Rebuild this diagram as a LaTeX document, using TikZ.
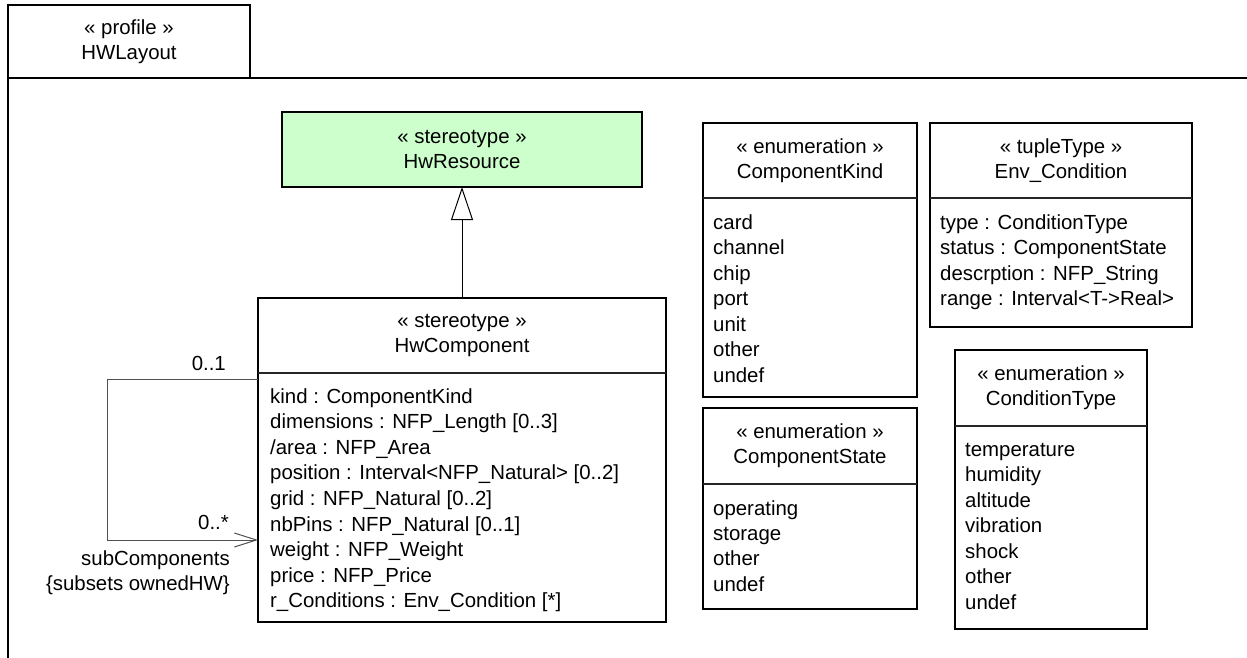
\documentclass[tikz,border=0pt]{standalone}
\usepackage{fontspec}
\setmainfont{Liberation Sans}
\usepackage{tikz}
\usetikzlibrary{arrows.meta,positioning,calc}
\definecolor{stereogreen}{RGB}{204,255,204}
\definecolor{linegray}{RGB}{80,80,80}
\newcommand{\umlfont}{\fontsize{20.4}{25}\selectfont}
\tikzset{
  umlbox/.style={draw=black,line width=1.3pt,fill=white,anchor=north west,inner sep=0pt,outer sep=0pt},
  compline/.style={line width=1.1pt,draw=black!85},
  framebox/.style={draw=black,line width=1.6pt,anchor=north west,inner sep=0pt,outer sep=0pt,align=center,font=\umlfont},
  frameline/.style={draw=black,line width=1.6pt},
  headtxt/.style={align=center,font=\umlfont,inner sep=0pt},
  item/.style={anchor=base west,font=\umlfont,inner sep=0pt},
  general/.style={-{Triangle[open,length=33pt,width=22pt]},line width=1pt,draw=black},
  assoc/.style={-{Straight Barb[length=22pt,width=14pt]},line width=1pt,draw=linegray},
  endlabel/.style={anchor=base east,font=\umlfont,inner sep=0pt}
}
\begin{document}
\begin{tikzpicture}[x=1pt,y=-1pt]
\useasboundingbox (0,0) rectangle (1247,657);

\node[framebox,minimum width=242,minimum height=73] (tab) at (8,5)
  {« profile »\\HWLayout};
\draw[frameline] (tab.south west) -- (1250,0 |- tab.south west);
\draw[frameline] (tab.south west) -- (tab.south west |- 0,660);

\node[umlbox,fill=stereogreen,minimum width=360,minimum height=75] (hwres) at (282,112) {};
\node[headtxt] (hwres-h) at (hwres.center) {« stereotype »\\HwResource};

\node[umlbox,minimum width=408,minimum height=324] (hwcomp) at (258,298) {};
\draw[compline] (hwcomp.west |- 0,373) -- (hwcomp.east |- 0,373);
\node[headtxt] (hwcomp-h) at (hwcomp.north |- 0,335.5) {« stereotype »\\HwComponent};
\foreach \lab [count=\i from 0] in {{kind : ComponentKind},{dimensions : NFP\_Length [0..3]},
    {/area : NFP\_Area},{position : Interval<NFP\_Natural> [0..2]},{grid : NFP\_Natural [0..2]},
    {nbPins : NFP\_Natural [0..1]},{weight : NFP\_Weight},{price : NFP\_Price},
    {r\_Conditions : Env\_Condition [*]}}{
  \node[item] (hwcomp-\i) at (270,{403+25.6*\i}) {\lab};
}

\draw[general] (hwcomp.north) -- (hwres.south);

\coordinate (loopTop) at (107,379);
\coordinate (loopBot) at (107,540);
\draw[assoc] (hwcomp.west |- loopTop) -- (loopTop) -- (loopBot) -- (hwcomp.west |- loopBot);
\node[endlabel] (multTop) at (226,370) {0..1};
\node[endlabel] (multBot) at (229,529) {0..*};
\node[endlabel] (roleName) at (230,565) {subComponents};
\node[endlabel] (roleSubsets) at (230,590) {\{subsets ownedHW\}};

\node[umlbox,minimum width=214,minimum height=274] (compkind) at (703,123) {};
\draw[compline] (compkind.west |- 0,198) -- (compkind.east |- 0,198);
\node[headtxt] (compkind-h) at (compkind.north |- 0,160.5) {« enumeration »\\ComponentKind};
\foreach \lab [count=\i from 0] in {card,channel,chip,port,unit,other,undef}{
  \node[item] (compkind-\i) at (713,{229+25.5*\i}) {\lab};
}

\node[umlbox,minimum width=262,minimum height=204] (envcond) at (930,123) {};
\draw[compline] (envcond.west |- 0,198) -- (envcond.east |- 0,198);
\node[headtxt] (envcond-h) at (envcond.north |- 0,160.5) {« tupleType »\\Env\_Condition};
\foreach \lab [count=\i from 0] in {{type : ConditionType},{status : ComponentState},
    {descrption : NFP\_String},{range : Interval<T->Real>}}{
  \node[item] (envcond-\i) at (940,{229+25.5*\i}) {\lab};
}

\node[umlbox,minimum width=214,minimum height=201] (compstate) at (703,408) {};
\draw[compline] (compstate.west |- 0,484) -- (compstate.east |- 0,484);
\node[headtxt] (compstate-h) at (compstate.north |- 0,446) {« enumeration »\\ComponentState};
\foreach \lab [count=\i from 0] in {operating,storage,other,undef}{
  \node[item] (compstate-\i) at (713,{515+25.4*\i}) {\lab};
}

\node[umlbox,minimum width=192,minimum height=279] (condtype) at (955,350) {};
\draw[compline] (condtype.west |- 0,426) -- (condtype.east |- 0,426);
\node[headtxt] (condtype-h) at (condtype.north |- 0,388) {« enumeration »\\ConditionType};
\foreach \lab [count=\i from 0] in {temperature,humidity,altitude,vibration,shock,other,undef}{
  \node[item] (condtype-\i) at (965,{456+25.5*\i}) {\lab};
}

\end{tikzpicture}
\end{document}
